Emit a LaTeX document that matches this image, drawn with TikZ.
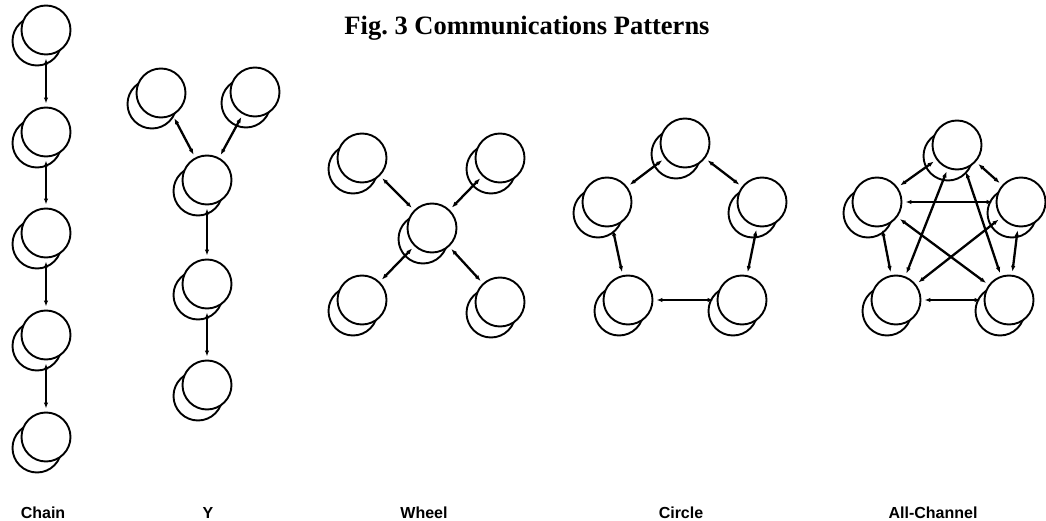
\documentclass[tikz,border=0pt]{standalone}
\usepackage{fontspec}
\newfontfamily\titlefont{Liberation Serif}
\newfontfamily\labelfont{Liberation Sans}
\usetikzlibrary{arrows.meta,shadows}

\begin{document}
\begin{tikzpicture}[x=1pt,y=-1pt]
\tikzstyle{member}=[circle,draw,line width=1.9pt,fill=white,minimum size=49pt,inner sep=0pt,copy shadow={shadow xshift=-9pt,shadow yshift=-11pt}]
\tikzstyle{channel}=[{Latex[length=6pt,width=4.5pt]}-{Latex[length=6pt,width=4.5pt]},line width=2.3pt,shorten <=3pt,shorten >=3pt]
\tikzstyle{pattern}=[anchor=base,font=\labelfont\bfseries\fontsize{16}{18}\selectfont]
	\useasboundingbox (0,0) rectangle (1046,521);
	\node[anchor=base,font=\titlefont\bfseries\fontsize{26.5}{30}\selectfont] (title) at (527,35) {Fig.\ 3 Communications Patterns};

	% chain
	\foreach \n/\y in {1/30,2/132,3/233,4/335,5/437}
		\node[member] (ch\n) at (46,\y) {};
	\draw[channel] (ch1) -- (ch2);
	\draw[channel] (ch2) -- (ch3);
	\draw[channel] (ch3) -- (ch4);
	\draw[channel] (ch4) -- (ch5);

	% y
	\node[member] (y1) at (161,93) {};
	\node[member] (y2) at (255,92) {};
	\node[member] (y3) at (207,180) {};
	\node[member] (y4) at (207,284) {};
	\node[member] (y5) at (207,385) {};
	\draw[channel] (y1) -- (y3);
	\draw[channel] (y2) -- (y3);
	\draw[channel] (y3) -- (y4);
	\draw[channel] (y4) -- (y5);

	% wheel
	\node[member] (w1) at (362,158) {};
	\node[member] (w2) at (500,158) {};
	\node[member] (w3) at (362,300) {};
	\node[member] (w4) at (500,302) {};
	\node[member] (w0) at (432,228) {};
	\foreach \n in {1,...,4}
		\draw[channel] (w0) -- (w\n);

	% circle
	\node[member] (ci1) at (685,143) {};
	\node[member] (ci2) at (762,202) {};
	\node[member] (ci3) at (742,300) {};
	\node[member] (ci4) at (628,300) {};
	\node[member] (ci5) at (607,202) {};
	\draw[channel] (ci1) -- (ci2);
	\draw[channel] (ci2) -- (ci3);
	\draw[channel] (ci3) -- (ci4);
	\draw[channel] (ci4) -- (ci5);
	\draw[channel] (ci5) -- (ci1);

	% all-channel
	\node[member] (al1) at (957,145) {};
	\node[member] (al2) at (1021,202) {};
	\node[member] (al3) at (1009,300) {};
	\node[member] (al4) at (896,300) {};
	\node[member] (al5) at (877,202) {};
	\foreach \a/\b in {1/2,1/3,1/4,1/5,2/3,2/4,2/5,3/4,3/5,4/5}
		\draw[channel] (al\a) -- (al\b);

	\node[pattern] (lchain) at (43,518) {Chain};
	\node[pattern] (ly) at (208,518) {Y};
	\node[pattern] (lwheel) at (424,518) {Wheel};
	\node[pattern] (lcircle) at (681,518) {Circle};
	\node[pattern] (lall) at (933,518) {All-Channel};
\end{tikzpicture}
\end{document}
